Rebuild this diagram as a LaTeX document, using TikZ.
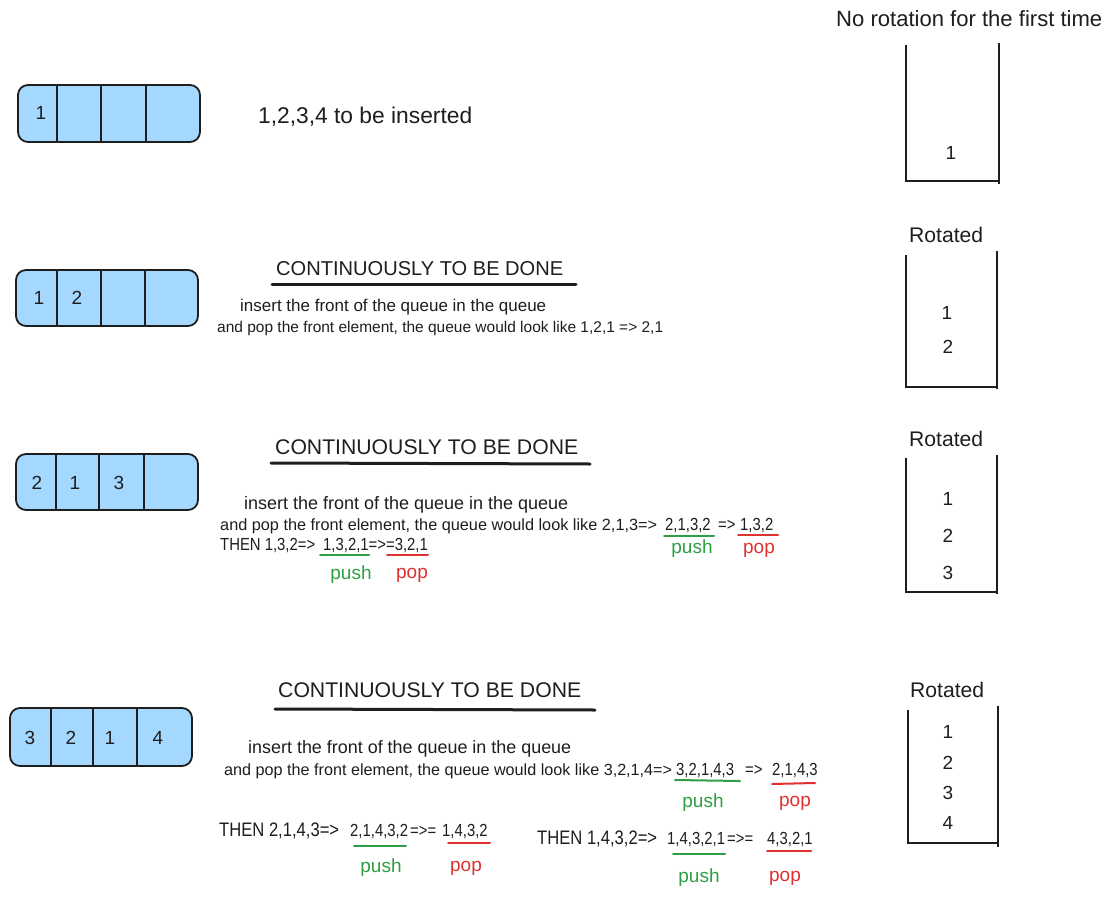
\documentclass[tikz,border=0pt]{standalone}
\usepackage{fontspec}
\setmainfont{Liberation Sans}
\newfontfamily\segfont[FakeStretch=0.85]{Liberation Sans}
\usepackage{graphicx}
\definecolor{ink}{HTML}{1E1E1E}
\definecolor{qfill}{HTML}{A5D8FF}
\definecolor{pgreen}{HTML}{2F9E44}
\definecolor{pred}{HTML}{E03131}
\newcommand{\fitw}[2]{\resizebox{#1pt}{!}{#2}}
\begin{document}
\begin{tikzpicture}[x=1pt,y=-1pt,
  qbox/.style={draw=ink, fill=qfill, line width=1.8pt, rounded corners=10pt},
  qdiv/.style={draw=ink, line width=1.8pt},
  stk/.style={draw=ink, line width=2.4pt},
  hline/.style={draw=ink, line width=3pt, line cap=round},
  gline/.style={draw=pgreen, line width=2pt, line cap=round},
  rline/.style={draw=pred, line width=2pt, line cap=round},
  txt/.style={inner sep=0pt, anchor=base west, text=ink, font=\fontsize{16}{16}\selectfont},
  seg/.style={inner sep=0pt, anchor=base west, text=ink, font=\segfont\fontsize{17.5}{17.5}\selectfont},
  num/.style={inner sep=0pt, text=ink, font=\fontsize{19}{19}\selectfont},
  push/.style={inner sep=0pt, text=pgreen, font=\fontsize{19}{19}\selectfont},
  popl/.style={inner sep=0pt, text=pred, font=\fontsize{19}{19}\selectfont}]
\useasboundingbox (0,0) rectangle (1111,899);
\fill[white] (0,0) rectangle (1111,899);

% ---------- queues ----------
\draw[qbox] (18,85) rectangle (200,142);
\draw[qdiv] (57,85) -- (57,142) (101,85) -- (101,142) (146,85) -- (146,142);
\node[num] (q1a) at (41,113) {1};

\draw[qbox] (16,270) rectangle (198,326);
\draw[qdiv] (57,270) -- (57,326) (101,270) -- (101,326) (145,270) -- (145,326);
\node[num] (q2a) at (39,298) {1};
\node[num] (q2b) at (77,298) {2};

\draw[qbox] (16,454) rectangle (198,510);
\draw[qdiv] (56,454) -- (56,510) (99,454) -- (99,510) (144,454) -- (144,510);
\node[num] (q3a) at (37,483) {2};
\node[num] (q3b) at (75,483) {1};
\node[num] (q3c) at (119,483) {3};

\draw[qbox] (10,708) rectangle (192,766);
\draw[qdiv] (51,708) -- (51,766) (93,708) -- (93,766) (137,708) -- (137,766);
\node[num] (q4a) at (30,738) {3};
\node[num] (q4b) at (71,738) {2};
\node[num] (q4c) at (110,738) {1};
\node[num] (q4d) at (158,738) {4};

% ---------- stacks ----------
\node[txt] (nr) at (836,27) {\fitw{266}{No rotation for the first time}};
\draw[stk] (906,45) -- (906,181) -- (999,181);
\draw[stk] (999,43) -- (999,184);
\node[num] (s1a) at (951,153) {1};

\node[txt] (r2) at (909,242) {\fitw{74}{Rotated}};
\draw[stk] (906,255) -- (906,387) -- (997,387);
\draw[stk] (997,251) -- (997,389);
\node[num] (s2a) at (947,313) {1};
\node[num] (s2b) at (948,347) {2};

\node[txt] (r3) at (909,446) {\fitw{74}{Rotated}};
\draw[stk] (906,458) -- (906,592) -- (997,592);
\draw[stk] (997,455) -- (997,594);
\node[num] (s3a) at (948,499) {1};
\node[num] (s3b) at (948,536) {2};
\node[num] (s3c) at (948,573) {3};

\node[txt] (r4) at (910,697) {\fitw{74}{Rotated}};
\draw[stk] (908,710) -- (908,843) -- (998,843);
\draw[stk] (998,706) -- (998,847);
\node[num] (s4a) at (948,732) {1};
\node[num] (s4b) at (948,763) {2};
\node[num] (s4c) at (948,793) {3};
\node[num] (s4d) at (948,823) {4};

% ---------- section 1 ----------
\node[txt] (t1) at (258,123) {\fitw{214}{1,2,3,4 to be inserted}};

% ---------- section 2 ----------
\node[txt] (h2) at (276,275) {\fitw{287}{CONTINUOUSLY TO BE DONE}};
\draw[hline] (272,284) -- (576,284);
\node[txt] (s2l1) at (240,311) {\fitw{306}{insert the front of the queue in the queue}};
\node[txt] (s2l2) at (217,332) {\fitw{446}{and pop the front element, the queue would look like 1,2,1 => 2,1}};

% ---------- section 3 ----------
\node[txt] (h3) at (275,454) {\fitw{303}{CONTINUOUSLY TO BE DONE}};
\draw[hline] (271,463) -- (590,464);
\node[txt] (s3l1) at (244,509) {\fitw{324}{insert the front of the queue in the queue}};
\node[txt] (s3l2) at (220,530) {\fitw{437}{and pop the front element, the queue would look like 2,1,3=>}};
\node[seg] (s3p) at (665,530) {2,1,3,2};
\node[seg] (s3a2) at (718,530) {=>};
\node[seg] (s3r) at (740,530) {1,3,2};
\draw[gline] (664,536) -- (714,536);
\draw[rline] (738,535) -- (778,535);
\node[push] (s3pl) at (692,549) {push};
\node[popl] (s3rl) at (759,550) {pop};

\node[seg] (s3l3) at (220,550) {THEN 1,3,2=>};
\node[seg] (s3t) at (323,550) {1,3,2,1=>=3,2,1};
\draw[gline] (320,555) -- (369,555);
\draw[rline] (387,555) -- (428,555);
\node[push] (s3pl2) at (351,575) {push};
\node[popl] (s3rl2) at (412,575) {pop};

% ---------- section 4 ----------
\node[txt] (h4) at (278,697) {\fitw{303}{CONTINUOUSLY TO BE DONE}};
\draw[hline] (275,709) -- (595,710);
\node[txt] (s4l1) at (248,753) {\fitw{323}{insert the front of the queue in the queue}};
\node[txt] (s4l2) at (224,775) {\fitw{448}{and pop the front element, the queue would look like 3,2,1,4=>}};
\node[seg] (s4p) at (676,775) {3,2,1,4,3};
\node[seg] (s4a2) at (745,775) {=>};
\node[seg] (s4r) at (772,775) {2,1,4,3};
\draw[gline] (675,780) -- (740,781);
\draw[rline] (772,784) -- (815,783);
\node[push] (s4pl) at (703,803) {push};
\node[popl] (s4rl) at (795,803) {pop};

\node[seg] (s4l3) at (219,836) {\fitw{120}{THEN 2,1,4,3=>}};
\node[seg] (s4c1) at (350,836) {2,1,4,3,2};
\node[seg] (s4c2) at (410,836) {=>=};
\node[seg] (s4c3) at (442,836) {1,4,3,2};
\draw[gline] (354,846) -- (406,846);
\draw[rline] (448,843) -- (490,843);
\node[push] (s4pl2) at (381,868) {push};
\node[popl] (s4rl2) at (466,868) {pop};

\node[seg] (s4l4) at (537,844) {\fitw{120}{THEN 1,4,3,2=>}};
\node[seg] (s4d1) at (667,844) {1,4,3,2,1};
\node[seg] (s4d2) at (727,844) {=>=};
\node[seg] (s4d3) at (767,844) {4,3,2,1};
\draw[gline] (673,854) -- (725,854);
\draw[rline] (767,851) -- (811,851);
\node[push] (s4pl3) at (699,878) {push};
\node[popl] (s4rl3) at (785,878) {pop};
\end{tikzpicture}
\end{document}
